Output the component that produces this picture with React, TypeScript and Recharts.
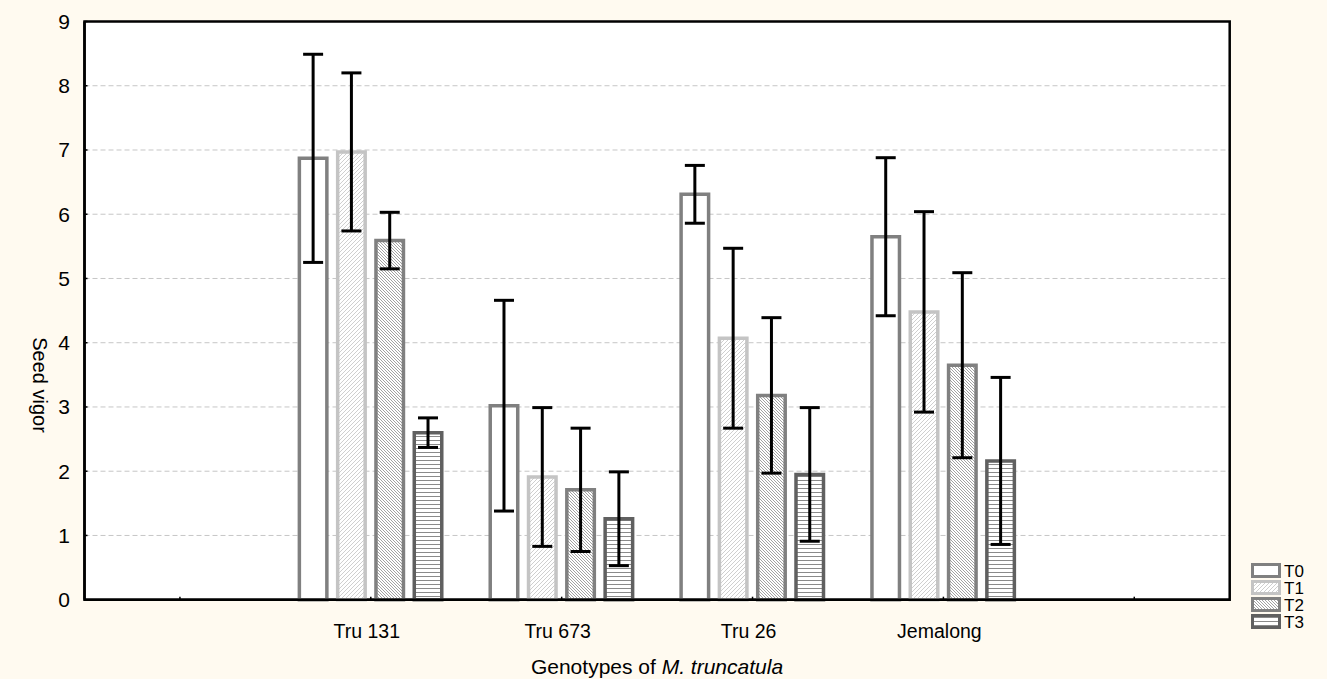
import {
  BarChart,
  Bar,
  XAxis,
  YAxis,
  CartesianGrid,
  ErrorBar,
  ReferenceArea,
  Legend,
} from "recharts";

// Seed vigor by genotype and treatment (means ± error)
const genotypes = ["", "Tru 131", "Tru 673", "Tru 26", "Jemalong", " "];
const treatments = ["T0", "T1", "T2", "T3"];

const t0Mean = [null, 6.87, 3.02, 6.31, 5.65, null];
const t1Mean = [null, 6.97, 1.91, 4.07, 4.48, null];
const t2Mean = [null, 5.59, 1.71, 3.18, 3.65, null];
const t3Mean = [null, 2.6, 1.26, 1.95, 2.16, null];

const t0Err = [null, 1.62, 1.64, 0.45, 1.23, null];
const t1Err = [null, 1.23, 1.08, 1.4, 1.56, null];
const t2Err = [null, 0.44, 0.96, 1.21, 1.44, null];
const t3Err = [null, 0.23, 0.73, 1.04, 1.3, null];

const yTicks = [0, 1, 2, 3, 4, 5, 6, 7, 8, 9];

const FONT = '"Liberation Sans", Arial, sans-serif';
const BG = "#fffaf0";

const data = genotypes.map((name, i) => ({
  name,
  T0: t0Mean[i],
  T1: t1Mean[i],
  T2: t2Mean[i],
  T3: t3Mean[i],
  eT0: t0Err[i],
  eT1: t1Err[i],
  eT2: t2Err[i],
  eT3: t3Err[i],
}));

const seriesStyle: Record<string, { fill: string; stroke: string }> = {
  T0: { fill: "#ffffff", stroke: "#808080" },
  T1: { fill: "url(#hatch-t1)", stroke: "#c4c4c4" },
  T2: { fill: "url(#hatch-t2)", stroke: "#808080" },
  T3: { fill: "url(#hatch-t3)", stroke: "#606060" },
};

function Patterns() {
  return (
    <defs>
      <pattern id="hatch-t1" patternUnits="userSpaceOnUse" width={4} height={4}>
        <rect width={4} height={4} fill="#ffffff" />
        <path d="M-1,1 l2,-2 M0,4 l4,-4 M3,5 l2,-2" stroke="#cfcfcf" strokeWidth={1} />
      </pattern>
      <pattern id="hatch-t2" patternUnits="userSpaceOnUse" width={3} height={3}>
        <rect width={3} height={3} fill="#ffffff" />
        <path d="M-1,-1 l2,2 M0,0 l3,3 M2,2 l2,2" stroke="#a2a2a2" strokeWidth={1} />
      </pattern>
      <pattern id="hatch-t3" patternUnits="userSpaceOnUse" width={4} height={4}>
        <rect width={4} height={4} fill="#ffffff" />
        <line x1={0} y1={0.5} x2={4} y2={0.5} stroke="#8a8a8a" strokeWidth={1} />
      </pattern>
    </defs>
  );
}

const LEGEND_STEP = 17;

function LegendBox() {
  return (
    <svg width={77} height={72} style={{ display: "block" }}>
      {treatments.map((t, i) => (
        <g key={t} transform={`translate(0, ${i * LEGEND_STEP})`}>
          <rect
            x={3.5}
            y={2.5}
            width={27}
            height={12}
            fill={seriesStyle[t].fill}
            stroke={seriesStyle[t].stroke}
            strokeWidth={3}
          />
          <text
            x={35}
            y={9}
            dominantBaseline="central"
            fontFamily={FONT}
            fontSize={17}
            fill="#000"
          >
            {t}
          </text>
        </g>
      ))}
    </svg>
  );
}

export default function App() {
  return (
    <div
      style={{
        position: "absolute",
        left: 0,
        top: 0,
        width: 1327,
        height: 679,
        background: BG,
      }}
    >
      <BarChart
        width={1327}
        height={679}
        data={data}
        margin={{ top: 21.5, right: 97.3, left: 0, bottom: 0 }}
        barSize={27.5}
        barGap={10.8}
        style={{ fontFamily: FONT }}
      >
        <Patterns />
        <CartesianGrid
          vertical={false}
          stroke="#c6c6c6"
          strokeDasharray="5 3"
          fill="#ffffff"
        />
        <XAxis
          dataKey="name"
          height={79.3}
          tickSize={-3}
          tickMargin={27}
          tickLine={{ stroke: "#000", strokeWidth: 1.5 }}
          axisLine={{ stroke: "#000", strokeWidth: 2.5 }}
          tick={{ fontSize: 19.5, fill: "#000", fontFamily: FONT, dx: -4 }}
          interval={0}
          label={{
            content: () => (
              <text
                x={657}
                y={666}
                textAnchor="middle"
                dominantBaseline="central"
                fontSize={21}
                fontFamily={FONT}
                fill="#000"
              >
                Genotypes of <tspan fontStyle="italic">M. truncatula</tspan>
              </text>
            ),
          }}
        />
        <YAxis
          width={84.5}
          domain={[0, 9]}
          ticks={yTicks}
          interval={0}
          tickSize={-3}
          tickMargin={17.5}
          tickLine={{ stroke: "#000", strokeWidth: 1.5 }}
          axisLine={{ stroke: "#000", strokeWidth: 2.5 }}
          tick={{ fontSize: 21, fill: "#000", fontFamily: FONT }}
          label={{
            content: () => (
              <text
                x={40}
                y={385}
                transform="rotate(90 40 385)"
                textAnchor="middle"
                dominantBaseline="central"
                fontSize={20}
                fontFamily={FONT}
                fill="#000"
              >
                Seed vigor
              </text>
            ),
          }}
        />
        {treatments.map((t) => (
          <Bar
            key={t}
            dataKey={t}
            fill={seriesStyle[t].fill}
            stroke={seriesStyle[t].stroke}
            strokeWidth={3.5}
            isAnimationActive={false}
          >
            <ErrorBar
              dataKey={`e${t}`}
              width={10}
              stroke="#000"
              strokeWidth={3}
              isAnimationActive={false}
            />
          </Bar>
        ))}
        <ReferenceArea
          y1={0}
          y2={9}
          fill="none"
          fillOpacity={0}
          stroke="#000"
          strokeWidth={2.5}
          ifOverflow="visible"
        />
        <Legend
          layout="vertical"
          verticalAlign="middle"
          align="center"
          content={() => <LegendBox />}
          wrapperStyle={{ left: 1249, top: 562, width: 77 }}
        />
      </BarChart>
    </div>
  );
}
